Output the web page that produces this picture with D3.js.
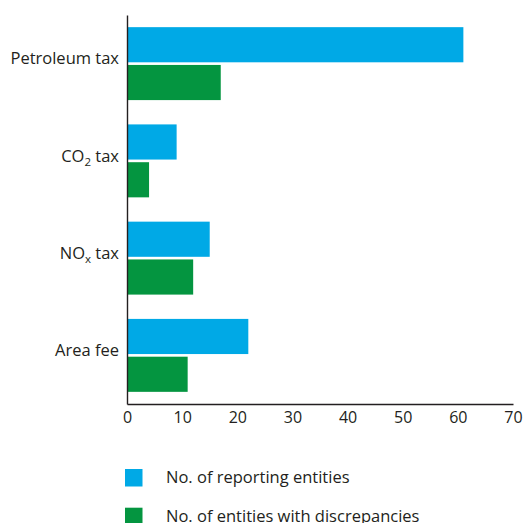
<!DOCTYPE html>
<html>
<head>
<meta charset="utf-8">
<script src="https://cdn.jsdelivr.net/npm/d3@7"></script>
<style>
  body { margin: 0; background: #fff; }
  svg text { font-family: "Open Sans", sans-serif; fill: #231f20; }
</style>
</head>
<body>
<div id="chart"></div>
<script>
// chart data
const categories = ["Petroleum tax", "CO2 tax", "NOx tax", "Area fee"];
const categoryLabels = [
  [{ t: "Petroleum tax" }],
  [{ t: "CO" }, { t: "2", sub: true }, { t: " tax" }],
  [{ t: "NO" }, { t: "x", sub: true }, { t: " tax" }],
  [{ t: "Area fee" }]
];
const seriesNames = ["No. of reporting entities", "No. of entities with discrepancies"];
const reportingEntities = [61, 9, 15, 22];
const entitiesWithDiscrepancies = [17, 4, 12, 11];
const xTicks = [0, 10, 20, 30, 40, 50, 60, 70];
const colors = ["#00a9e6", "#049540"];

const width = 526, height = 523;
const plotLeft = 127, plotRight = 513, plotTop = 15, plotBottom = 404;

const svg = d3.select("#chart").append("svg")
  .attr("width", width)
  .attr("height", height);

const xScale = d3.scaleLinear().domain([0, 70]).range([plotLeft, plotRight]);
const yScale = d3.scaleBand().domain(categories).range([plotTop, plotBottom])
  .paddingInner(0.25).paddingOuter(0.125);
const inner = d3.scaleBand().domain(seriesNames).range([0, yScale.bandwidth()])
  .paddingInner(0.07);

const rows = categories.map((c, i) => ({
  name: c,
  label: categoryLabels[i],
  values: [reportingEntities[i], entitiesWithDiscrepancies[i]]
}));

// bars
const groups = svg.append("g").attr("class", "bars")
  .selectAll("g")
  .data(rows)
  .join("g")
  .attr("transform", d => `translate(0,${yScale(d.name)})`);

groups.selectAll("rect")
  .data(d => d.values.map((v, k) => ({ key: seriesNames[k], value: v, k })))
  .join("rect")
  .attr("x", xScale(0))
  .attr("y", d => inner(d.key))
  .attr("width", d => xScale(d.value) - xScale(0))
  .attr("height", inner.bandwidth())
  .attr("fill", d => colors[d.k]);

// category labels (with subscripts)
const labels = svg.append("g").attr("class", "labels")
  .selectAll("text")
  .data(rows)
  .join("text")
  .attr("x", plotLeft - 8)
  .attr("y", d => yScale(d.name) + yScale.bandwidth() / 2)
  .attr("dy", "0.05em")
  .attr("text-anchor", "end")
  .attr("font-size", 16.5);

labels.selectAll("tspan")
  .data(d => d.label)
  .join("tspan")
  .attr("font-size", d => d.sub ? 11.5 : null)
  .attr("dy", d => d.sub ? 4 : null)
  .text(d => d.t)
  .each(function(d, i, nodes) {
    // reset baseline after a subscript
    if (i > 0 && nodes[i - 1].__data__.sub) d3.select(this).attr("dy", -4);
  });

// x axis
const xAxis = svg.append("g")
  .attr("transform", `translate(0,${plotBottom})`)
  .call(d3.axisBottom(xScale).tickValues(xTicks).tickSize(0).tickSizeOuter(0).tickPadding(8));
xAxis.select(".domain").attr("stroke", "#231f20").attr("stroke-width", 1.4);
xAxis.selectAll("text").attr("font-size", 16).attr("font-family", "Open Sans, sans-serif").attr("fill", "#231f20");

// y axis line
const yAxis = svg.append("g")
  .attr("transform", `translate(${plotLeft},0)`)
  .call(d3.axisLeft(yScale).tickValues([]).tickSizeOuter(0));
yAxis.select(".domain").attr("stroke", "#231f20").attr("stroke-width", 1.4);

// legend
const legend = svg.append("g").attr("class", "legend")
  .selectAll("g")
  .data(seriesNames)
  .join("g")
  .attr("transform", (d, i) => `translate(125,${469 + i * 38.7})`);

legend.append("rect")
  .attr("width", 17.5)
  .attr("height", 17.5)
  .attr("fill", (d, i) => colors[i]);

legend.append("text")
  .attr("x", 41)
  .attr("y", 14)
  .attr("font-size", 16.5)
  .text(d => d);
</script>
</body>
</html>
